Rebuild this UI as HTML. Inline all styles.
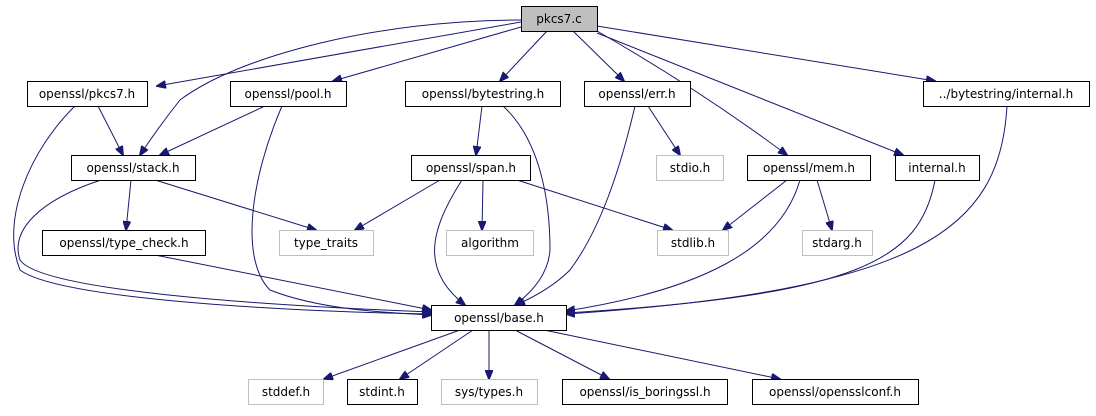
<!DOCTYPE html>
<html><head><meta charset="utf-8"><style>
body{margin:0;background:#fff}
svg text{font-family:"DejaVu Sans","Liberation Sans",sans-serif;font-size:12px;text-anchor:middle;fill:#000}
</style></head><body>
<svg width="1096" height="411" viewBox="0 0 1096 411" xmlns="http://www.w3.org/2000/svg">
<defs><marker id="a" markerWidth="10" markerHeight="8" refX="9" refY="4" orient="auto" markerUnits="userSpaceOnUse"><path d="M0,0 L10,4 L0,8 z" fill="#191970" stroke="#191970"/></marker></defs>
<g fill="none" stroke="#191970" stroke-width="1" marker-end="url(#a)">
<path d="M521,22 L157,86"/>
<path d="M521,27 L333,81"/>
<path d="M547,31 L500,81"/>
<path d="M573,31 L624,81"/>
<path d="M597,31 Q700,90 787,155"/>
<path d="M597,33 L903,155"/>
<path d="M597,26 L935,81"/>
<path d="M521,20 C380,20 240,55 180,100 Q160,125 140,155"/>
<path d="M98,106 L123,155"/>
<path d="M75,106 C30,150 0,220 20,270 C60,300 300,312 431,314"/>
<path d="M265,106 L160,155"/>
<path d="M282,106 C250,180 240,260 270,290 C320,310 390,313 431,315"/>
<path d="M482,106 L476,155"/>
<path d="M503,106 C540,140 550,200 550,250 Q548,280 515,305"/>
<path d="M648,106 L680,155"/>
<path d="M635,106 C620,170 600,230 570,270 Q550,290 516,305"/>
<path d="M101,180 C40,200 10,230 20,260 C40,290 250,305 431,312"/>
<path d="M131,180 L126,230"/>
<path d="M155,180 L316,230"/>
<path d="M440,180 L355,230"/>
<path d="M483,180 L482,230"/>
<path d="M517,180 L672,230"/>
<path d="M462,180 C430,230 420,270 465,305"/>
<path d="M787,180 L723,230"/>
<path d="M817,180 L832,230"/>
<path d="M800,180 C780,250 700,290 566,311"/>
<path d="M935,180 C920,260 860,295 566,313"/>
<path d="M1007,106 C1000,230 920,290 566,314"/>
<path d="M150,254 L431,310"/>
<path d="M460,330 L324,379"/>
<path d="M473,330 L400,379"/>
<path d="M489,330 L489,379"/>
<path d="M515,330 L609,379"/>
<path d="M544,330 L780,379"/>
</g>
<g stroke-width="1">
<rect x="521.5" y="6.5" width="76" height="25" fill="#bfbfbf" stroke="#000"/>
<rect x="27.5" y="81.5" width="120" height="25" fill="#fff" stroke="#000"/>
<rect x="230.5" y="81.5" width="116" height="25" fill="#fff" stroke="#000"/>
<rect x="405.5" y="81.5" width="155" height="25" fill="#fff" stroke="#000"/>
<rect x="584.5" y="81.5" width="106" height="25" fill="#fff" stroke="#000"/>
<rect x="923.5" y="81.5" width="166" height="25" fill="#fff" stroke="#000"/>
<rect x="71.5" y="155.5" width="124" height="25" fill="#fff" stroke="#000"/>
<rect x="411.5" y="155.5" width="119" height="25" fill="#fff" stroke="#000"/>
<rect x="656.5" y="155.5" width="67" height="25" fill="#fff" stroke="#bfbfbf"/>
<rect x="747.5" y="155.5" width="123" height="25" fill="#fff" stroke="#000"/>
<rect x="895.5" y="155.5" width="84" height="25" fill="#fff" stroke="#000"/>
<rect x="42.5" y="230.5" width="163" height="25" fill="#fff" stroke="#000"/>
<rect x="279.5" y="230.5" width="94" height="25" fill="#fff" stroke="#bfbfbf"/>
<rect x="446.5" y="230.5" width="87" height="25" fill="#fff" stroke="#bfbfbf"/>
<rect x="657.5" y="230.5" width="71" height="25" fill="#fff" stroke="#bfbfbf"/>
<rect x="802.5" y="230.5" width="70" height="25" fill="#fff" stroke="#bfbfbf"/>
<rect x="431.5" y="305.5" width="135" height="25" fill="#fff" stroke="#000"/>
<rect x="248.5" y="379.5" width="75" height="25" fill="#fff" stroke="#bfbfbf"/>
<rect x="347.5" y="379.5" width="70" height="25" fill="#fff" stroke="#000"/>
<rect x="441.5" y="379.5" width="96" height="25" fill="#fff" stroke="#bfbfbf"/>
<rect x="562.5" y="379.5" width="165" height="25" fill="#fff" stroke="#000"/>
<rect x="752.5" y="379.5" width="166" height="25" fill="#fff" stroke="#000"/>
</g>
<text x="559" y="23">pkcs7.c</text>
<text x="87" y="98">openssl/pkcs7.h</text>
<text x="288" y="98">openssl/pool.h</text>
<text x="483" y="98">openssl/bytestring.h</text>
<text x="637" y="98">openssl/err.h</text>
<text x="1006" y="98">../bytestring/internal.h</text>
<text x="133" y="172">openssl/stack.h</text>
<text x="471" y="172">openssl/span.h</text>
<text x="690" y="172">stdio.h</text>
<text x="809" y="172">openssl/mem.h</text>
<text x="937" y="172">internal.h</text>
<text x="124" y="247">openssl/type_check.h</text>
<text x="326" y="247">type_traits</text>
<text x="490" y="247">algorithm</text>
<text x="693" y="247">stdlib.h</text>
<text x="837" y="247">stdarg.h</text>
<text x="499" y="322">openssl/base.h</text>
<text x="286" y="396">stddef.h</text>
<text x="382" y="396">stdint.h</text>
<text x="489" y="396">sys/types.h</text>
<text x="645" y="396">openssl/is_boringssl.h</text>
<text x="835" y="396">openssl/opensslconf.h</text>
</svg>
</body></html>
